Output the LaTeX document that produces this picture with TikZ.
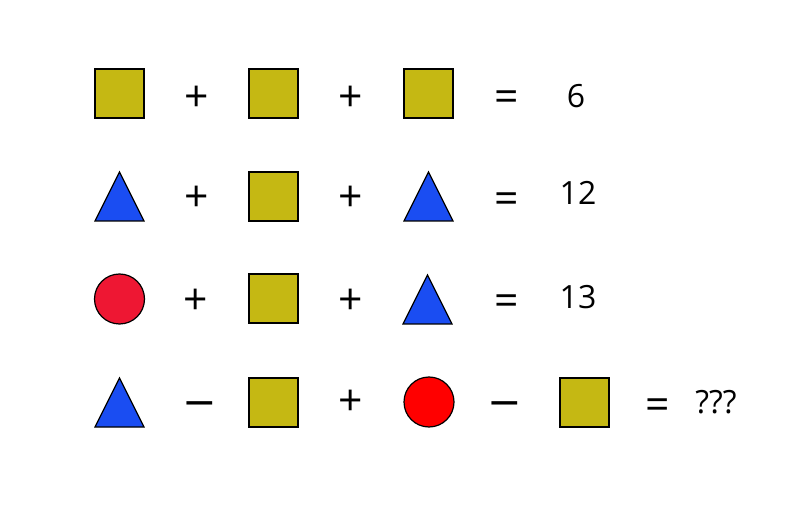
\documentclass[tikz,border=0pt]{standalone}
\usepackage{fontspec}
\usepackage{graphicx}
\setmainfont{Open Sans}
\definecolor{olive}{HTML}{C5B813}
\definecolor{tblue}{HTML}{1A4DF2}
\definecolor{cpink}{HTML}{EE1733}
\definecolor{cred}{HTML}{FF0000}
\begin{document}
\begin{tikzpicture}[x=0.75pt,y=-0.75pt,
  sq/.style={draw=black,line width=0.9pt,fill=olive,minimum size=36.75pt,inner sep=0pt,outer sep=0pt},
  tri/.style={draw=black,line width=0.9pt,fill=tblue},
  circ/.style={draw=black,line width=0.9pt,circle,minimum size=37.5pt,inner sep=0pt},
  op/.style={font=\fontsize{32}{36}\selectfont,inner sep=0pt},
  minus/.style={font=\fontsize{34}{38}\selectfont,inner sep=0pt},
  num/.style={font=\fontsize{24}{28}\selectfont,inner sep=0pt}]
\useasboundingbox (0,0) rectangle (800,520);
% row 1
\node[sq] (a1) at (119.5,93.5) {};
\node[op] (p11) at (197,99) {+};
\node[sq] (a2) at (273.5,93.5) {};
\node[op] (p12) at (351,99) {+};
\node[sq] (a3) at (428.5,93.5) {};
\node[op] (e1) at (507,101) {=};
\node[num] (r1) at (576,96) {6};
% row 2
\draw[tri] (95,221) -- (119.5,172) -- (144,221) -- cycle;
\node[op] (p21) at (197,199) {+};
\node[sq] (b2) at (273.5,196.5) {};
\node[op] (p22) at (351,199) {+};
\draw[tri] (404,221) -- (428.5,172) -- (453,221) -- cycle;
\node[op] (e2) at (507,203) {=};
\node[num] (r2) at (578,193) {12};
% row 3
\node[circ,fill=cpink] (c1) at (119.5,299) {};
\node[op] (p31) at (196,302) {+};
\node[sq] (c2) at (273.5,298.5) {};
\node[op] (p32) at (351,302) {+};
\draw[tri] (403,324) -- (427.5,275) -- (452,324) -- cycle;
\node[op] (e3) at (507,305) {=};
\node[num] (r3) at (578,297) {13};
% row 4
\draw[tri] (95,427) -- (119.5,378) -- (144,427) -- cycle;
\node[minus] (m41) at (200,409) {\scalebox{1.35}[1]{–}};
\node[sq] (d2) at (273.5,402.5) {};
\node[op] (p42) at (351,403) {+};
\node[circ,fill=cred] (d3) at (429,402) {};
\node[minus] (m42) at (505,409) {\scalebox{1.35}[1]{–}};
\node[sq] (d4) at (584.5,402.5) {};
\node[op] (e4) at (658,409) {=};
\node[num] (r4) at (716,402) {???};
\end{tikzpicture}
\end{document}
